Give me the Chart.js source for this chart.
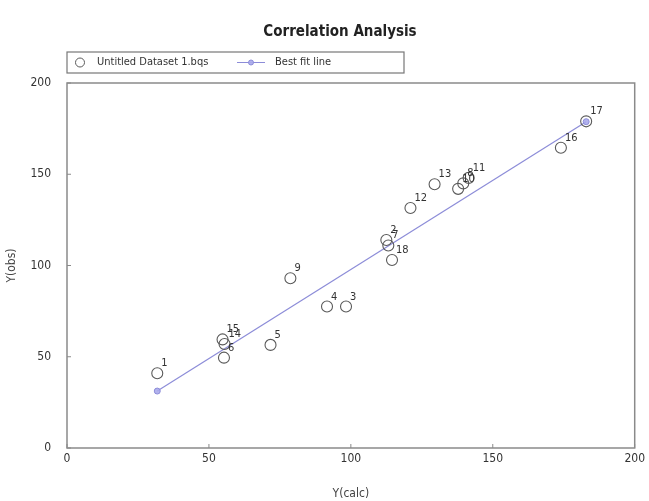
<!DOCTYPE html>
<html>
<head>
<meta charset="utf-8">
<script src="https://cdn.jsdelivr.net/npm/chart.js@4/dist/chart.umd.min.js"></script>
<style>
  html, body { margin: 0; padding: 0; background: #fff; }
  #wrap { width: 649px; height: 501px; }
</style>
</head>
<body>
<div id="wrap"><canvas id="chart" width="649" height="501"></canvas></div>
<script>
// values
var pointLabels = ['1','2','3','4','5','6','7','8','9','10','11','12','13','14','15','16','17','18'];
var calcValues  = [31.8, 112.5, 98.3, 91.6, 71.7, 55.3, 113.2, 139.6, 78.7, 137.8, 141.5, 121.0, 129.5, 55.5, 54.8, 174.0, 182.9, 114.5];
var obsValues   = [41.0, 114.0, 77.5, 77.5, 56.5, 49.5, 111.0, 145.0, 93.0, 142.0, 148.0, 131.5, 144.5, 57.0, 59.5, 164.5, 179.0, 103.0];
var fitX = [31.8, 182.9];
var fitY = [31.2, 178.8];
var axisMin = 0, axisMax = 200, axisStep = 50;
var chartTitle = 'Correlation Analysis';

var FONT = '"DejaVu Sans Condensed", "Liberation Sans", Arial, sans-serif';
var lineColor = '#8c8cd8';
var markColor = '#5a5a5a';
var frameColor = '#8a8a8a';

var scatterData = calcValues.map(function (x, i) { return { x: x, y: obsValues[i] }; });
var fitData = fitX.map(function (x, i) { return { x: x, y: fitY[i] }; });

// title, frame, inward ticks, point numbers and the boxed legend
var extras = {
  id: 'extras',
  afterDraw: function (chart) {
    var ctx = chart.ctx, a = chart.chartArea;
    ctx.save();

    ctx.fillStyle = '#222';
    ctx.font = 'bold 15px ' + FONT;
    ctx.textAlign = 'center';
    ctx.textBaseline = 'middle';
    ctx.fillText(chartTitle, 340, 32);
    ctx.textAlign = 'left';

    ctx.strokeStyle = frameColor;
    ctx.lineWidth = 1.5;
    ctx.strokeRect(a.left, a.top, a.right - a.left, a.bottom - a.top);

    ctx.lineWidth = 1;
    chart.scales.x.ticks.forEach(function (t) {
      var px = chart.scales.x.getPixelForValue(t.value);
      ctx.beginPath(); ctx.moveTo(px, a.bottom); ctx.lineTo(px, a.bottom - 4); ctx.stroke();
    });
    chart.scales.y.ticks.forEach(function (t) {
      var py = chart.scales.y.getPixelForValue(t.value);
      ctx.beginPath(); ctx.moveTo(a.left, py); ctx.lineTo(a.left + 4, py); ctx.stroke();
    });

    // point numbers
    ctx.fillStyle = '#333';
    ctx.font = '11px ' + FONT;
    ctx.textBaseline = 'alphabetic';
    chart.getDatasetMeta(0).data.forEach(function (el, i) {
      ctx.fillText(pointLabels[i], el.x + 4, el.y - 7);
    });

    // legend box
    var lx = a.left, ly = 52, lw = 337, lh = 21, my = ly + lh / 2;
    ctx.strokeStyle = '#777';
    ctx.lineWidth = 1.2;
    ctx.strokeRect(lx, ly, lw, lh);
    ctx.strokeStyle = markColor;
    ctx.lineWidth = 1;
    ctx.beginPath(); ctx.arc(lx + 13, my, 4.5, 0, Math.PI * 2); ctx.stroke();
    ctx.fillStyle = '#333';
    ctx.font = '11px ' + FONT;
    ctx.textBaseline = 'middle';
    ctx.fillText(chart.data.datasets[0].label, lx + 30, my);
    ctx.strokeStyle = lineColor;
    ctx.beginPath(); ctx.moveTo(lx + 170, my); ctx.lineTo(lx + 198, my); ctx.stroke();
    ctx.fillStyle = 'rgba(170,170,235,0.9)';
    ctx.beginPath(); ctx.arc(lx + 184, my, 2.5, 0, Math.PI * 2); ctx.fill(); ctx.stroke();
    ctx.fillStyle = '#333';
    ctx.fillText(chart.data.datasets[1].label, lx + 208, my);
    ctx.restore();
  }
};

new Chart(document.getElementById('chart'), {
  type: 'scatter',
  data: {
    datasets: [
      { label: 'Untitled Dataset 1.bqs', data: scatterData, pointStyle: 'circle', pointRadius: 5.5,
        pointBorderColor: markColor, pointBackgroundColor: 'rgba(0,0,0,0)', pointBorderWidth: 1.1 },
      { label: 'Best fit line', data: fitData, showLine: true, borderColor: lineColor, borderWidth: 1.2,
        pointRadius: 3, pointBackgroundColor: 'rgba(170,170,235,0.9)', pointBorderColor: lineColor, pointBorderWidth: 1 }
    ]
  },
  plugins: [extras],
  options: {
    responsive: false,
    animation: false,
    layout: { autoPadding: false, padding: { left: 0, right: 12, top: 83, bottom: 0 } },
    plugins: {
      legend: { display: false },
      tooltip: { enabled: false },
      title: { display: false }
    },
    scales: {
      x: {
        type: 'linear', min: axisMin, max: axisMax,
        ticks: { stepSize: axisStep, color: '#333', font: { family: FONT, size: 12 }, padding: 4 },
        grid: { display: false, tickLength: 0 }, border: { display: false },
        title: { display: true, text: 'Y(calc)', color: '#444', font: { family: FONT, size: 12 }, padding: { top: 16, bottom: 0 } },
        afterFit: function (s) { s.height = 53; }
      },
      y: {
        type: 'linear', min: axisMin, max: axisMax,
        ticks: { stepSize: axisStep, color: '#333', font: { family: FONT, size: 12 }, padding: 16 },
        grid: { display: false, tickLength: 0 }, border: { display: false },
        title: { display: true, text: 'Y(obs)', color: '#444', font: { family: FONT, size: 12 }, padding: { top: 5, bottom: 0 } },
        afterFit: function (s) { s.width = 67; }
      }
    }
  }
});
</script>
</body>
</html>
